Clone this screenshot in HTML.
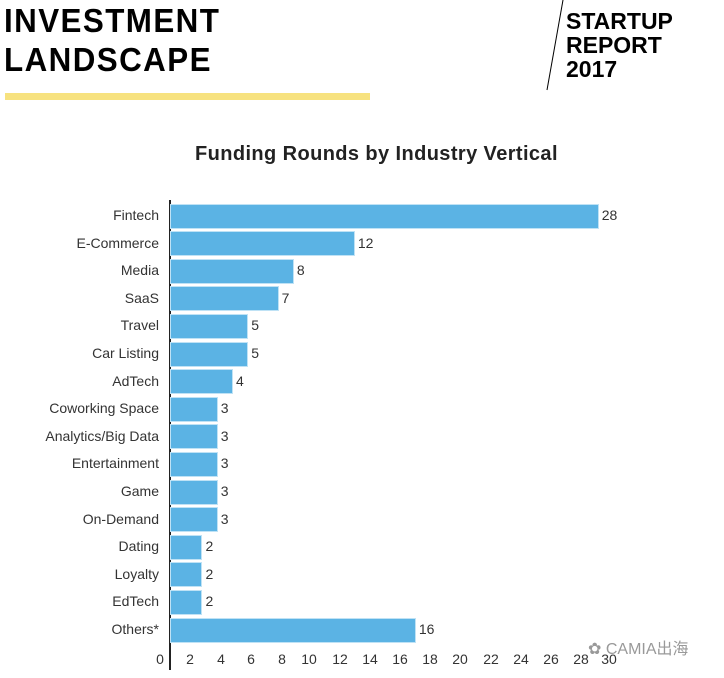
<!DOCTYPE html>
<html><head><meta charset="utf-8"><style>
body{margin:0;width:724px;height:678px;background:#fff;overflow:hidden;position:relative;font-family:"Liberation Sans",sans-serif}
.a{position:absolute;white-space:nowrap}
.h{font-weight:bold;font-size:33px;letter-spacing:1.5px;color:#000;transform:scaleX(0.95);transform-origin:left}
.s{font-weight:bold;font-size:23px;line-height:24px;color:#000}
.lab{position:absolute;right:565px;font-size:14px;color:#333;text-align:right}
.bar{position:absolute;left:171px;height:23px;background:#5bb3e4;box-shadow:0 0 0 1px #bfe2f5}
.val{position:absolute;font-size:14px;color:#333}
.tk{position:absolute;top:651px;font-size:14px;color:#333;transform:translateX(-50%)}
</style></head><body>
<div class="a h" style="left:4px;top:2px">INVESTMENT</div>
<div class="a h" style="left:4px;top:41px">LANDSCAPE</div>
<div class="a" style="left:5px;top:93px;width:365px;height:7px;background:#f7e27f"></div>
<svg class="a" style="left:540px;top:0" width="30" height="95"><line x1="23" y1="0" x2="7" y2="90" stroke="#000" stroke-width="1"/></svg>
<div class="a s" style="left:566px;top:9px">STARTUP<br>REPORT<br>2017</div>
<div class="a" style="left:195px;top:143px;font-size:20px;font-weight:bold;color:#222;letter-spacing:0.4px">Funding Rounds by Industry Vertical</div>
<div class="a" style="left:169px;top:200px;width:2px;height:470px;background:#222"></div>
<div id="c"></div>
<div class="a" style="left:588px;top:635px;font-size:16px;color:#999">&#10047; CAMIA<span style="font-family:'Noto Sans CJK SC',sans-serif">出海</span></div>
<script>
var d=[["Fintech",28],["E-Commerce",12],["Media",8],["SaaS",7],["Travel",5],["Car Listing",5],["AdTech",4],["Coworking Space",3],["Analytics/Big Data",3],["Entertainment",3],["Game",3],["On-Demand",3],["Dating",2],["Loyalty",2],["EdTech",2],["Others*",16]];
var h="";
d.forEach(function(r,i){var c=216+i*27.6,w=r[1]*15.24;
h+='<div class="lab" style="top:'+(c-9)+'px">'+r[0]+'</div>';
h+='<div class="bar" style="top:'+(c-11.5)+'px;width:'+w+'px"></div>';
h+='<div class="val" style="top:'+(c-9)+'px;left:'+(175+w)+'px">'+r[1]+'</div>';});
var tx=[160,190,221,251,282,309,340,370,400,430,460,491,521,551,581,609];
tx.forEach(function(x,i){h+='<div class="tk" style="left:'+x+'px">'+(i*2)+'</div>';});
document.getElementById("c").innerHTML=h;
</script>
</body></html>
